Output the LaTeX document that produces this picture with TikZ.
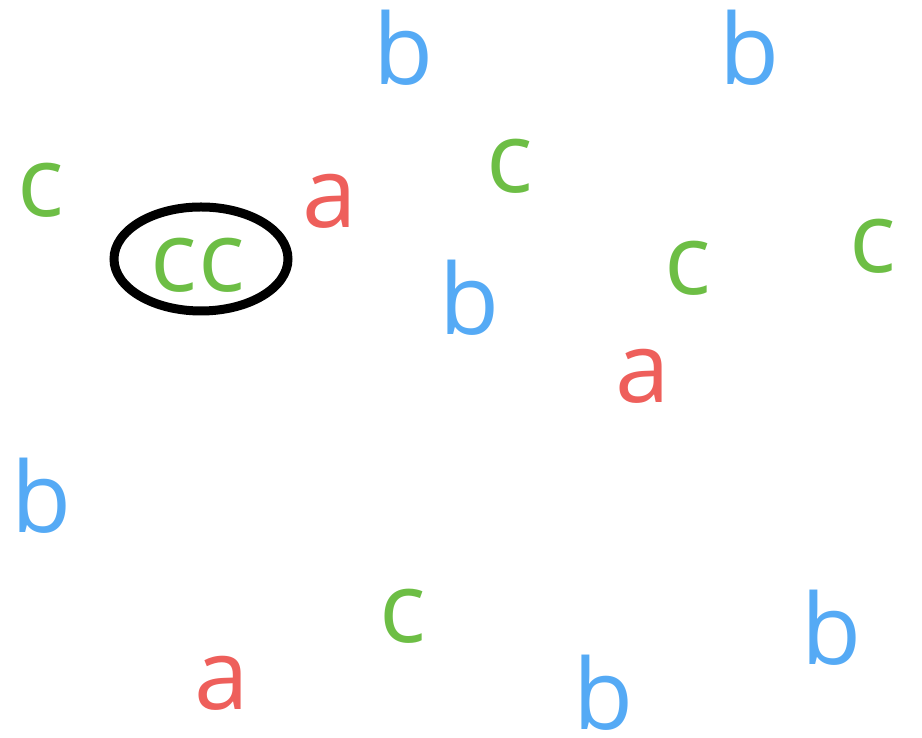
\documentclass[tikz,border=0pt]{standalone}
\usepackage{fontspec}
\setmainfont{Open Sans}
\usetikzlibrary{shapes.geometric}
\definecolor{lred}{HTML}{EE5F5B}
\definecolor{lblue}{HTML}{55AAF5}
\definecolor{lgreen}{HTML}{6DBE45}
\tikzset{
  letter/.style={anchor=base, inner sep=0pt, font=\fontsize{98}{98}\selectfont},
  la/.style={letter, text=lred},
  lb/.style={letter, text=lblue},
  lc/.style={letter, text=lgreen},
}
\begin{document}
\begin{tikzpicture}[x=1pt,y=1pt]
\useasboundingbox (0,0) rectangle (922,738);
\node[lb] (b1) at (404,653) {b};
\node[lb] (b2) at (750,653) {b};
\node[lc] (c1) at (41,521) {c};
\node[la] (a1) at (330,510) {a};
\node[lc] (c2) at (510,545) {c};
\node[lc] (cc) at (198,446) {c\kern2pt c};
\node[draw, ellipse, line width=9pt, minimum width=174pt, minimum height=104pt, inner sep=0pt] (ring) at (201,479) {};
\node[lb] (b3) at (470,403) {b};
\node[lc] (c3) at (688,443) {c};
\node[lc] (c4) at (873,465) {c};
\node[la] (a2) at (643,335) {a};
\node[lb] (b4) at (42,205) {b};
\node[lc] (c5) at (403,95) {c};
\node[la] (a3) at (222,28) {a};
\node[lb] (b5) at (832,73) {b};
\node[lb] (b6) at (604,8) {b};
\end{tikzpicture}
\end{document}
